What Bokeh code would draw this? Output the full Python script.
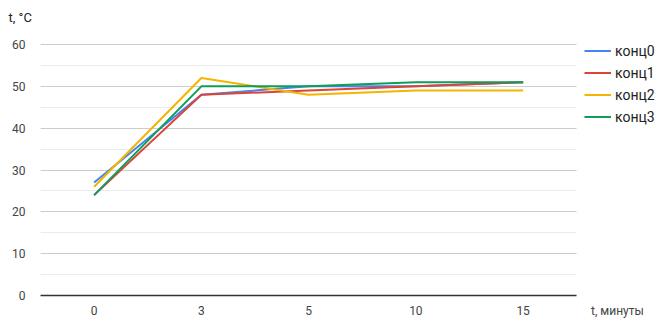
from bokeh.plotting import figure
from bokeh.models import Range1d, SingleIntervalTicker, FixedTicker, Legend, LegendItem, LinearAxis
from bokeh.embed import file_html
from bokeh.resources import INLINE

categories = ["0", "3", "5", "10", "15"]
series_names = ["конц0", "конц1", "конц2", "конц3"]
konc0 = [27, 48, 50, 50, 51]
konc1 = [24, 48, 49, 50, 51]
konc2 = [26, 52, 48, 49, 49]
konc3 = [24, 50, 50, 51, 51]
colors = ["#4285F4", "#DB4437", "#F4B400", "#0F9D58"]
y_label = "t, °C"
x_label = "t, минуты"

FONT = "Roboto"
n = len(categories)
xpos = list(range(n))
x_label_pos = n - 0.12  # where the x title sits, right of the plot area

p = figure(width=662, height=322, output_backend="svg", toolbar_location=None,
           x_range=Range1d(-0.5, n + 0.2995),
           y_range=Range1d(0, 63.35),
           min_border_left=40, min_border_right=0, min_border_top=30, min_border_bottom=27)
p.outline_line_color = None
p.background_fill_color = "white"
p.border_fill_color = "white"

p.title.text = y_label
p.title.align = "left"
p.title.offset = -32
p.title.standoff = 12
p.title.text_font = FONT
p.title.text_font_size = "13px"
p.title.text_font_style = "normal"
p.title.text_color = "#222222"

items = []
for name, vals, c in zip(series_names, [konc0, konc1, konc2, konc3], colors):
    r = p.line(xpos, vals, line_color=c, line_width=2)
    items.append(LegendItem(label=name, renderers=[r]))

# y axis
p.yaxis.ticker = SingleIntervalTicker(interval=10, num_minor_ticks=2)
p.yaxis.axis_line_color = None
p.yaxis.major_tick_line_color = None
p.yaxis.minor_tick_line_color = None
p.yaxis.major_label_standoff = 9
p.yaxis.major_label_text_font = FONT
p.yaxis.major_label_text_font_size = "12px"
p.yaxis.major_label_text_color = "#444444"

# baseline axis (line only, limited to the category span)
base = p.xaxis[0]
base.ticker = FixedTicker(ticks=[])
base.bounds = (-0.5, n - 0.5)
base.axis_line_color = "#333333"
base.axis_line_width = 1.5
base.major_tick_line_color = None
base.minor_tick_line_color = None

# label axis
overrides = {i: c for i, c in enumerate(categories)}
overrides[x_label_pos] = x_label
lab = LinearAxis(ticker=FixedTicker(ticks=xpos + [x_label_pos]),
                 major_label_overrides=overrides,
                 axis_line_color=None, major_tick_line_color=None, minor_tick_line_color=None,
                 major_label_standoff=2, major_label_text_font=FONT,
                 major_label_text_font_size="12px", major_label_text_color="#444444")
p.add_layout(lab, "below")

p.xgrid.grid_line_color = None
p.ygrid.grid_line_color = "#cccccc"
p.ygrid.minor_grid_line_color = "#ebebeb"
p.ygrid.cross_bounds = (-0.5, n - 0.5)

legend = Legend(items=items, location=(544, 170), orientation="vertical",
                glyph_width=27, glyph_height=17, label_height=17, spacing=5, label_standoff=4,
                padding=0, margin=0, border_line_color=None, background_fill_alpha=0,
                label_text_font=FONT, label_text_font_size="14px", label_text_color="#222222")
p.add_layout(legend, "center")

open("out.html", "w").write(file_html(p, INLINE))
